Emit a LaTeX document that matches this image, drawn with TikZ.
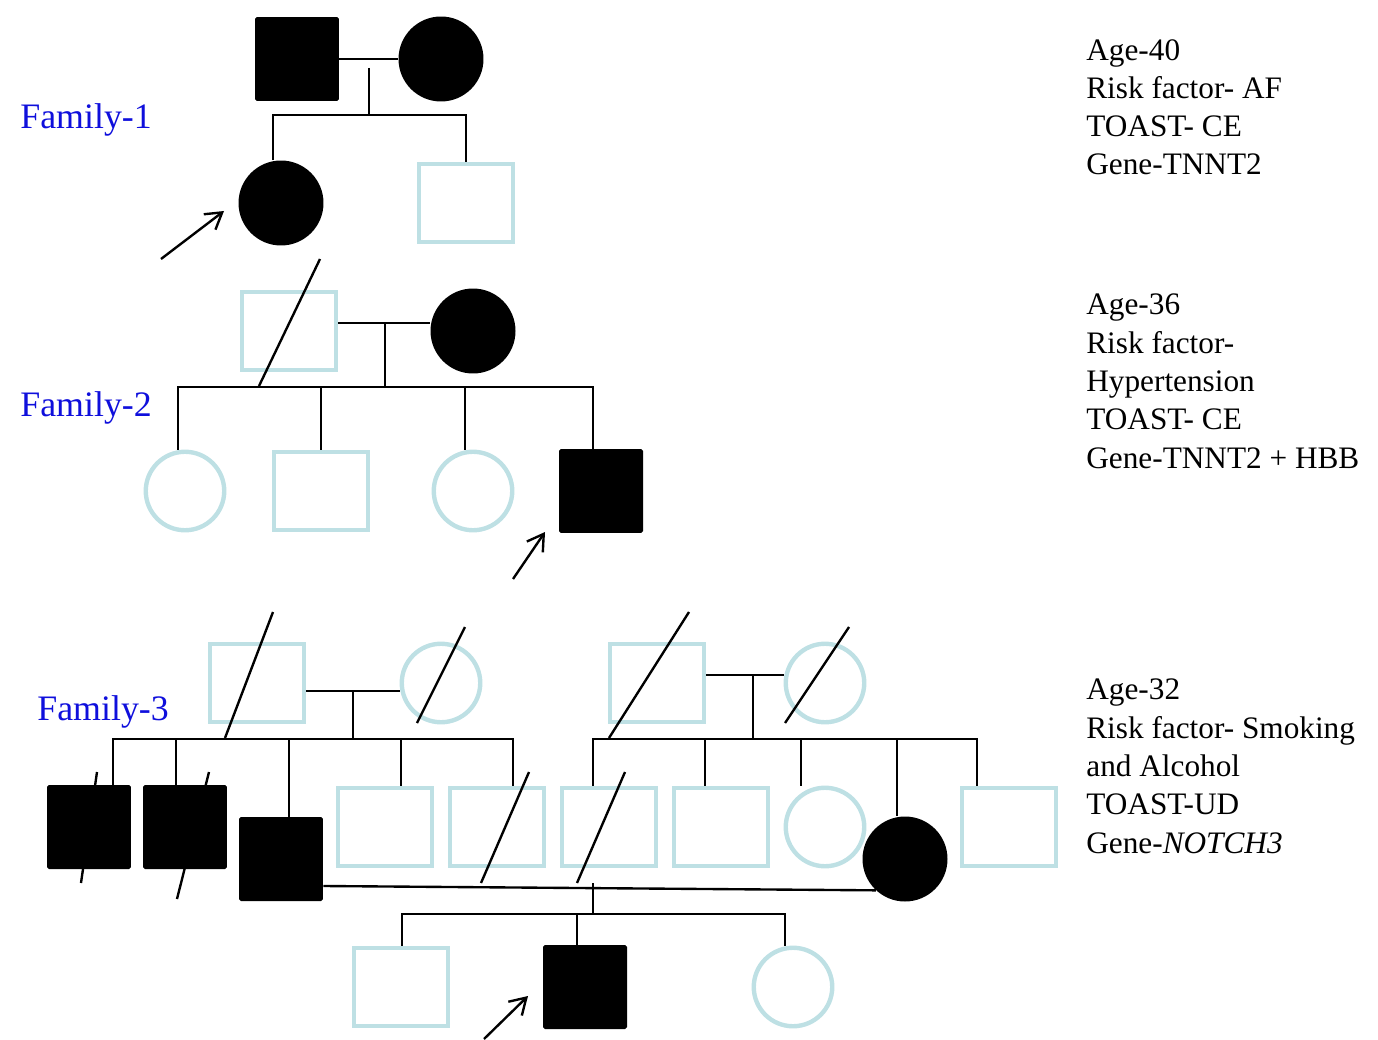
\documentclass[tikz,border=0pt]{standalone}
\usepackage{fontspec}
\setmainfont{Liberation Serif}
\usetikzlibrary{arrows.meta}
\definecolor{pedblue}{RGB}{190,224,228}
\definecolor{famblue}{RGB}{15,15,220}
\tikzset{
  male/.style={rectangle, draw=pedblue, line width=2.5pt, inner sep=0pt, minimum width=1.87cm, minimum height=1.56cm},
  female/.style={circle, draw=pedblue, line width=2.5pt, inner sep=0pt, minimum size=1.57cm},
  affmale/.style={rectangle, fill=black, rounded corners=1pt, inner sep=0pt, minimum size=1.68cm},
  afffemale/.style={circle, fill=black, inner sep=0pt, minimum size=1.7cm},
  link/.style={line width=1.35pt},
  proband/.style={line width=1.35pt, -{Straight Barb[length=9pt,width=11pt]}},
  famlabel/.style={text=famblue, anchor=base west, inner sep=0pt, font=\fontsize{20.4}{24}\selectfont},
  info/.style={anchor=base west, inner sep=0pt, align=left, font=\fontsize{17.8}{21.8}\selectfont}
}
\begin{document}
\begin{tikzpicture}[x=0.02cm, y=-0.02cm]
  \useasboundingbox (0,0) rectangle (1378,1040);
  % Family 1
  \node[famlabel] (fam1) at (20,129) {Family-1};
  \node[affmale] (f1dad) at (297,59) {};
  \node[afffemale] (f1mom) at (441,59) {};
  \node[afffemale] (f1girl) at (281,203) {};
  \node[male] (f1boy) at (466,203) {};
  \coordinate (f1bar) at (369,115);
  \draw[link] (f1dad) -- (f1mom);
  \draw[link] (369,68) -- (f1bar);
  \draw[link] (f1girl.north -| 273,0) |- (f1bar) -| (f1boy.north);
  \draw[proband] (161,259) -- (224,211);

  % Family 2
  \node[famlabel] (fam2) at (20,416) {Family-2};
  \node[male] (f2dad) at (289,331) {};
  \node[afffemale] (f2mom) at (473,331) {};
  \node[female] (f2c1) at (185,491) {};
  \node[male] (f2c2) at (321,491) {};
  \node[female] (f2c3) at (473,491) {};
  \node[affmale] (f2c4) at (601,491) {};
  \coordinate (f2bar) at (385,387);
  \draw[link] (f2dad.east |- 0,323) -- (f2mom.west |- 0,323);
  \draw[link] (385,323) -- (f2bar);
  \draw[link] (f2c1.north -| 178,0) |- (f2bar) -| (f2c4.north -| 593,0);
  \draw[link] (f2c2.north) -- (f2c2.north |- f2bar);
  \draw[link] (f2c3.north -| 465,0) -- (465,387);
  % deceased
  \draw[link] (259,386) -- (320,259);
  \draw[proband] (513,579) -- (545,532);

  % Family 3
  \node[famlabel] (fam3) at (37,720) {Family-3};
  % grandparents
  \node[male] (f3gp1) at (257,683) {};
  \node[female] (f3gm1) at (441,683) {};
  \node[male] (f3gp2) at (657,683) {};
  \node[female] (f3gm2) at (825,683) {};
  \coordinate (f3bar1) at (353,739);
  \coordinate (f3bar2) at (753,739);
  \draw[link] (f3gp1.east |- 0,691) -- (f3gm1.west |- 0,691);
  \draw[link] (f3gp2.east |- 0,675) -- (f3gm2.west |- 0,675);
  \draw[link] (353,691) -- (f3bar1);
  \draw[link] (753,675) -- (f3bar2);
  % left sibship
  \node[affmale] (f3a) at (89,827) {};
  \node[affmale] (f3b) at (185,827) {};
  \node[affmale] (f3c) at (281,859) {};
  \node[male] (f3d) at (385,827) {};
  \node[male] (f3e) at (497,827) {};
  \draw[link] (f3a.north -| 113,0) |- (f3bar1) -| (f3e.north -| 513,0);
  \draw[link] (176,739) -- (f3b.north -| 176,0);
  \draw[link] (289,739) -- (f3c.north -| 289,0);
  \draw[link] (401,739) -- (f3d.north -| 401,0);
  % right sibship
  \node[male] (f3f) at (609,827) {};
  \node[male] (f3g) at (721,827) {};
  \node[female] (f3h) at (825,827) {};
  \node[afffemale] (f3i) at (905,859) {};
  \node[male] (f3j) at (1009,827) {};
  \draw[link] (f3f.north -| 593,0) |- (f3bar2) -| (f3j.north -| 977,0);
  \draw[link] (705,739) -- (f3g.north -| 705,0);
  \draw[link] (801,739) -- (f3h.north -| 801,0);
  \draw[link] (897,739) -- (f3i.north -| 897,0);
  % parents of proband
  \draw[link] (f3c.east |- 0,886) -- (f3i.227);
  \coordinate (f3bar3) at (593,914);
  \draw[link] (593,883) -- (f3bar3);
  % children
  \node[male] (f3k) at (401,987) {};
  \node[affmale] (f3l) at (585,987) {};
  \node[female] (f3m) at (793,987) {};
  \draw[link] (f3k.north -| 402,0) |- (f3bar3) -| (f3m.north -| 785,0);
  \draw[link] (577,914) -- (f3l.north -| 577,0);
  % deceased
  \draw[link] (225,738) -- (273,612);
  \draw[link] (417,723) -- (465,627);
  \draw[link] (609,738) -- (689,612);
  \draw[link] (785,723) -- (849,627);
  \draw[link] (81,883) -- (97,772);
  \draw[link] (177,899) -- (209,772);
  \draw[link] (481,883) -- (529,772);
  \draw[link] (577,883) -- (625,772);
  \draw[proband] (484,1039) -- (528,996);

  % clinical notes
  \node[info] (info1) at (1086,175) {Age-40\\Risk factor- AF\\TOAST- CE\\Gene-TNNT2};
  \node[info] (info2) at (1086,468) {Age-36\\Risk factor-\\Hypertension\\TOAST- CE\\Gene-TNNT2 + HBB};
  \node[info] (info3) at (1086,853) {Age-32\\Risk factor- Smoking\\and Alcohol\\TOAST-UD\\Gene-\textit{NOTCH3}};
\end{tikzpicture}
\end{document}
